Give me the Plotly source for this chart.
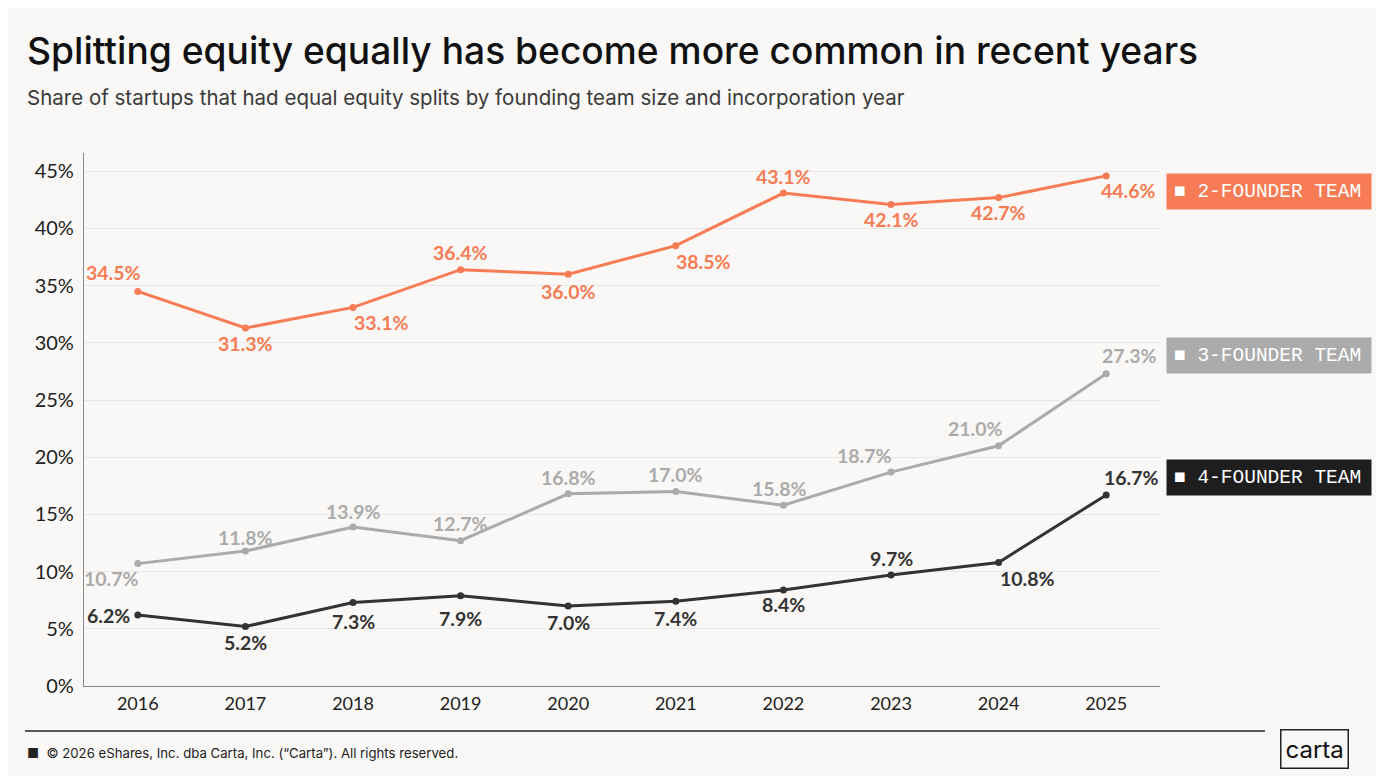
import plotly.graph_objects as go

years = [2016, 2017, 2018, 2019, 2020, 2021, 2022, 2023, 2024, 2025]
two_founder = [34.5, 31.3, 33.1, 36.4, 36.0, 38.5, 43.1, 42.1, 42.7, 44.6]
three_founder = [10.7, 11.8, 13.9, 12.7, 16.8, 17.0, 15.8, 18.7, 21.0, 27.3]
four_founder = [6.2, 5.2, 7.3, 7.9, 7.0, 7.4, 8.4, 9.7, 10.8, 16.7]
series_names = ["2-FOUNDER TEAM", "3-FOUNDER TEAM", "4-FOUNDER TEAM"]
y_ticks = [0, 5, 10, 15, 20, 25, 30, 35, 40, 45]

ORANGE = "#F77C55"
GREY = "#ABABAB"
DARK = "#333333"
BG = "#F9F8F6"

# label offsets in px (dx, dy), dy positive = up
off_two = [(-24, 19), (0, -15), (28, -15), (0, 17), (0, -17),
           (28, -16), (0, 17), (0, -15), (0, -15), (22, -15)]
off_three = [(-26, -15), (0, 14), (0, 16), (0, 17), (0, 16),
             (0, 17), (-4, 17), (-27, 17), (-23, 17), (23, 18)]
off_four = [(-29, 0), (0, -16), (0, -19), (0, -23), (0, -17),
            (0, -17), (0, -15), (0, 17), (29, -16), (25, 17)]

fig = go.Figure()
for vals, col, offs, name in [(two_founder, ORANGE, off_two, series_names[0]),
                              (three_founder, GREY, off_three, series_names[1]),
                              (four_founder, DARK, off_four, series_names[2])]:
    fig.add_trace(go.Scatter(
        x=years, y=vals, name=name, mode="lines+markers",
        line=dict(color=col, width=3),
        marker=dict(color=col, size=7),
        showlegend=False,
    ))
    for x, v, (dx, dy) in zip(years, vals, offs):
        fig.add_annotation(
            x=x, y=v, text=f"{v:.1f}%", showarrow=False,
            xanchor="center", yanchor="middle", xshift=dx, yshift=dy,
            font=dict(family="Lato", size=19.5, color=col, weight="bold"),
        )

# legend boxes on the right
boxes = [(two_founder, ORANGE, series_names[0], -16),
         (three_founder, GREY, series_names[1], 18),
         (four_founder, "#1E1E1E", series_names[2], 17)]
for vals, col, name, shift in boxes:
    fig.add_annotation(
        x=1, xref="paper", xanchor="left", xshift=6,
        y=vals[-1], yref="y", yanchor="middle", yshift=shift,
        text="■ " + name, showarrow=False,
        font=dict(family="Liberation Mono", size=19.5, color="white"),
        bgcolor=col, borderpad=7, width=190, height=21, align="left",
    )

# title & subtitle
fig.add_annotation(
    x=-0.0548, y=1.1932, xref="paper", yref="paper", xanchor="left", yanchor="middle",
    text="Splitting equity equally has become more common in recent years",
    showarrow=False, font=dict(family="Inter", size=37.2, color="#111111", weight=500),
)
fig.add_annotation(
    x=-0.0548, y=1.1032, xref="paper", yref="paper", xanchor="left", yanchor="middle",
    text="Share of startups that had equal equity splits by founding team size and incorporation year",
    showarrow=False, font=dict(family="Inter", size=20.5, color="#3A3A3A"),
)

# footer
fig.add_shape(type="line", xref="paper", yref="paper", x0=-0.0548, x1=1.0976,
              y0=-0.0844, y1=-0.0844, line=dict(color="#222222", width=1.5))
fig.add_annotation(
    x=-0.0548, y=-0.1257, xref="paper", yref="paper", xanchor="left", yanchor="middle",
    text="■  © 2026 eShares, Inc. dba Carta, Inc. (“Carta”). All rights reserved.",
    showarrow=False, font=dict(family="Inter", size=13.2, color="#222222"),
)
fig.add_annotation(
    x=1.144, y=-0.1191, xref="paper", yref="paper", xanchor="center", yanchor="middle",
    text="carta", showarrow=False, font=dict(family="Inter", size=24, color="#111111"),
    bordercolor="#222222", borderwidth=1.5, borderpad=4,
)

fig.update_layout(
    width=1376, height=768,
    paper_bgcolor=BG, plot_bgcolor=BG,
    margin=dict(l=76, r=224, t=145, b=90),
    font=dict(family="Lato", color="#222222"),
    xaxis=dict(
        range=[2015.5, 2025.5], tickvals=years, ticktext=[str(y) for y in years],
        showgrid=False, showline=True, linecolor="#888888", linewidth=1.2,
        tickfont=dict(size=18, color="#222222"), ticks="", ticklabelstandoff=1,
        zeroline=False,
    ),
    yaxis=dict(
        range=[0, 46.6], tickvals=y_ticks, ticktext=[f"{t}%" for t in y_ticks],
        showgrid=True, gridcolor="#E9E7E4", gridwidth=1,
        showline=True, linecolor="#888888", linewidth=1.2,
        tickfont=dict(size=20, color="#222222"), ticks="", ticklabelstandoff=5,
        zeroline=False,
    ),
)

fig.write_html("out.html")
